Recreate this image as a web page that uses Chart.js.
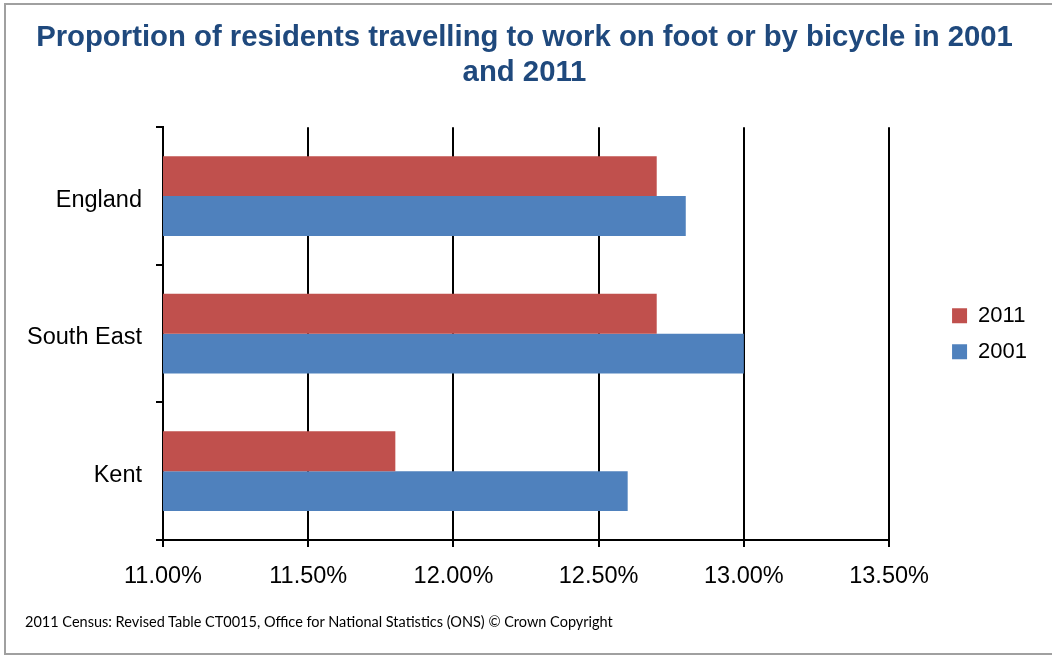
<!DOCTYPE html>
<html>
<head>
<meta charset="utf-8">
<script src="https://cdn.jsdelivr.net/npm/chart.js@4/dist/chart.umd.min.js"></script>
<style>
  html, body { margin: 0; padding: 0; background: #fff; overflow: hidden; }
  #wrap { position: relative; width: 1052px; height: 655px; overflow: hidden; }
  #frame { position: absolute; left: 4px; top: 3px; width: 1100px; height: 648px; border: 2px solid #a0a0a0; }
  #chart { position: absolute; left: 0; top: 0; }
  #fuente { position: absolute; left: 25px; top: 613px; font: 14.5px/17px Lato, sans-serif; color: #000; white-space: nowrap; }
</style>
</head>
<body>
<div id="wrap">
  <div id="frame"></div>
  <canvas id="chart" width="1052" height="655"></canvas>
  <div id="fuente"></div>
</div>
<script>
// Datos del grafico
const categorias = ['England', 'South East', 'Kent'];
const serie2011 = [12.7, 12.7, 11.8];
const serie2001 = [12.8, 13.0, 12.6];
const etiquetasX = ['11.00%', '11.50%', '12.00%', '12.50%', '13.00%', '13.50%'];

const titulo = ['Proportion of residents travelling to work on foot or by bicycle in 2001', 'and 2011'];
const fuente = '2011 Census: Revised Table CT0015, Office for National Statistics (ONS) \u00A9 Crown Copyright';

const fontBase = "'Liberation Sans', Arial, sans-serif";

//Texto de la fuente debajo del grafico
document.getElementById('fuente').textContent = fuente;

let ctx = document.getElementById('chart').getContext('2d');
let myChart = new Chart(ctx, {
  type: 'bar',
  data: {
    labels: categorias,
    datasets: [
      { label: '2011', data: serie2011, backgroundColor: '#C0504D' },
      { label: '2001', data: serie2001, backgroundColor: '#4F81BD' }
    ]
  },
  options: {
    indexAxis: 'y',
    responsive: false,
    animation: false,
    devicePixelRatio: 1,
    categoryPercentage: 0.58,
    barPercentage: 1,
    layout: { padding: { left: 12, right: 15, top: 0, bottom: 68 } },
    scales: {
      x: {
        min: 11,
        max: 13.5,
        afterFit: function(s) { s.height = 47; },
        ticks: {
          stepSize: 0.5,
          color: '#000',
          padding: 15,
          font: { family: fontBase, size: 23.5 },
          callback: function(v, i) { return etiquetasX[i]; }
        },
        grid: { color: '#000', lineWidth: 2, tickLength: 7 },
        border: { color: '#000', width: 2 }
      },
      y: {
        z: 1,
        afterFit: function(s) { s.width = 151; },
        ticks: {
          color: '#000',
          padding: 14,
          labelOffset: 4,
          font: { family: fontBase, size: 23.5 }
        },
        grid: { color: '#000', lineWidth: 2, tickLength: 7, drawOnChartArea: false, offset: true },
        border: { color: '#000', width: 2 }
      },
      //Espacio vacio entre el grafico y la leyenda
      hueco: {
        type: 'linear',
        position: 'right',
        afterFit: function(s) { s.width = 49; },
        grid: { display: false },
        ticks: { display: false },
        border: { display: false }
      }
    },
    plugins: {
      title: {
        display: true,
        text: titulo,
        color: '#1F497D',
        font: { family: fontBase, size: 29.3, weight: 'bold', lineHeight: 1.2 },
        padding: { top: 20, bottom: 37 }
      },
      legend: {
        position: 'right',
        fullSize: false,
        labels: {
          boxWidth: 15,
          boxHeight: 15,
          padding: 14,
          color: '#000',
          font: { family: fontBase, size: 22 }
        }
      },
      tooltip: { enabled: false }
    }
  }
});
</script>
</body>
</html>
